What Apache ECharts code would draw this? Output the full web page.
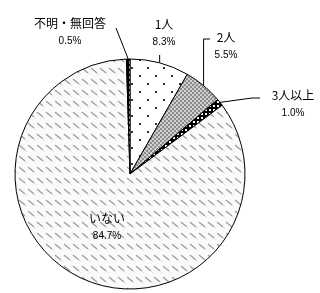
<!DOCTYPE html>
<html><head><meta charset="utf-8">
<script src="https://cdn.jsdelivr.net/npm/echarts@6/dist/echarts.min.js"></script>
<style>html,body{margin:0;padding:0;background:#fff}#c{width:320px;height:293px}</style>
</head><body><div id="c"></div>
<script>
const categories = ['1人', '2人', '3人以上', 'いない', '不明・無回答'];
const values = [8.3, 5.5, 1.0, 84.7, 0.5];
const pctLabels = ['8.3%', '5.5%', '1.0%', '84.7%', '0.5%'];

function pattern(w, h, draw) {
  const c = document.createElement('canvas');
  c.width = w; c.height = h;
  const g = c.getContext('2d');
  draw(g, w, h);
  return { image: c, repeat: 'repeat' };
}
const patDots = pattern(16, 16, g => {
  g.fillStyle = '#fff'; g.fillRect(0, 0, 16, 16);
  g.fillStyle = '#333'; g.fillRect(3, 3, 2, 2); g.fillRect(11, 11, 2, 2);
});
const patChecker = pattern(4, 4, g => {
  g.fillStyle = '#d0d0d0'; g.fillRect(0, 0, 4, 4);
  g.fillStyle = '#8c8c8c'; g.fillRect(0, 0, 2, 2); g.fillRect(2, 2, 2, 2);
});
const patBlackSq = pattern(4, 4, g => {
  g.fillStyle = '#000'; g.fillRect(0, 0, 4, 4);
  g.fillStyle = '#fff'; g.fillRect(1, 1, 2, 2);
});
const patDiag = pattern(9, 11, g => {
  g.fillStyle = '#fafafa'; g.fillRect(0, 0, 9, 11);
  g.strokeStyle = '#a0a0a0'; g.lineWidth = 1.5; g.lineCap = 'round';
  g.beginPath(); g.moveTo(1.5, 2.5); g.lineTo(6.5, 6.5); g.stroke();
  g.strokeStyle = '#d8d8d8'; g.lineWidth = 1;
  g.beginPath(); g.moveTo(7.5, 7.5); g.lineTo(8.5, 8.5); g.stroke();
});
const patBlackDash = pattern(4, 5, g => {
  g.fillStyle = '#000'; g.fillRect(0, 0, 4, 5);
  g.fillStyle = '#fff'; g.fillRect(1, 1, 2, 3);
});
const fills = [patDots, patChecker, patBlackSq, patDiag, patBlackDash];

const CX = 130, CY = 174, R = 115;
// mid-angle edge points computed from the data
function edgeAt(i) {
  const total = values.reduce((a, b) => a + b, 0);
  let acc = 0;
  for (let k = 0; k < i; k++) acc += values[k];
  const mid = (acc + values[i] / 2) / total * 2 * Math.PI;
  return [CX + R * Math.sin(mid), CY - R * Math.cos(mid)];
}
const labelPos = {
  0: { x: 164, y: 33.5, line: e => [e, [e[0], 55], [e[0], 55]] },
  1: { x: 226, y: 46, line: e => [e, [e[0], 39], [210, 39]] },
  2: { x: 293, y: 104, line: e => [e, [252, 98], [260, 98]] },
  3: { x: 107, y: 227 },
  4: { x: 70, y: 32, line: e => [e, [116, 28], [116, 28]] }
};

const data = categories.map((n, i) => {
  const d = { name: n, value: values[i], itemStyle: { color: fills[i] } };
  if (i === 3) d.label = { position: 'inside' };
  return d;
});

const chart = echarts.init(document.getElementById('c'), null, { renderer: 'canvas' });
chart.setOption({
  animation: false,
  series: [{
    type: 'pie',
    center: [CX, CY],
    radius: R,
    startAngle: 90,
    clockwise: true,
    avoidLabelOverlap: false,
    emphasis: { disabled: true },
    itemStyle: { borderColor: '#000', borderWidth: 1 },
    label: {
      show: true,
      formatter: p => '{a|' + p.name + '}\n{b|' + pctLabels[p.dataIndex] + '}',
      rich: {
        a: { fontFamily: 'Noto Sans CJK JP', fontSize: 12, color: '#000', lineHeight: 18, align: 'center' },
        b: { fontFamily: 'Liberation Sans', fontSize: 10, color: '#000', lineHeight: 18, align: 'center' }
      }
    },
    labelLine: { show: true, lineStyle: { color: '#000', width: 1 }, length: 10, length2: 10 },
    labelLayout: p => {
      const L = labelPos[p.dataIndex];
      if (!L) return {};
      const o = { x: L.x, y: L.y, align: 'center', verticalAlign: 'middle' };
      if (L.line) o.labelLinePoints = L.line(edgeAt(p.dataIndex));
      return o;
    },
    data: data
  }]
});
</script></body></html>
